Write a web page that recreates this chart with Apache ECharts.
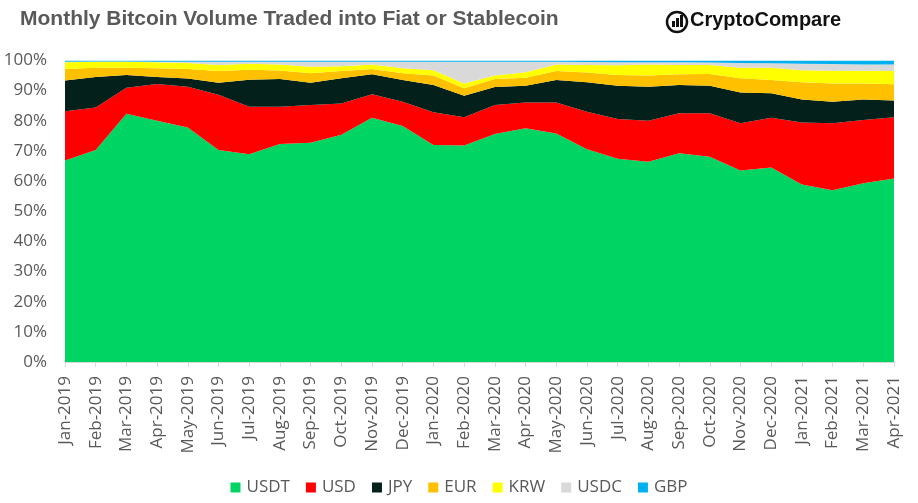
<!DOCTYPE html>
<html>
<head>
<meta charset="utf-8">
<script src="https://cdn.jsdelivr.net/npm/echarts@6/dist/echarts.min.js"></script>
<style>html,body{margin:0;padding:0;background:#fff}#c{width:918px;height:503px}</style>
</head>
<body>
<div id="c"></div>
<script>
var months = ["Jan-2019","Feb-2019","Mar-2019","Apr-2019","May-2019","Jun-2019","Jul-2019","Aug-2019","Sep-2019","Oct-2019","Nov-2019","Dec-2019","Jan-2020","Feb-2020","Mar-2020","Apr-2020","May-2020","Jun-2020","Jul-2020","Aug-2020","Sep-2020","Oct-2020","Nov-2020","Dec-2020","Jan-2021","Feb-2021","Mar-2021","Apr-2021"];
var USDT = [66.8,70.3,82.3,80.0,77.8,70.3,68.9,72.3,72.7,75.4,81.0,78.3,72.0,71.8,75.6,77.5,75.8,70.6,67.4,66.4,69.2,68.1,63.5,64.5,58.9,57.0,59.3,60.9];
var USD  = [16.4,14.1,8.7,12.2,13.5,18.3,15.8,12.4,12.5,10.3,7.8,8.0,10.8,9.4,9.6,8.6,10.3,12.4,13.2,13.6,13.3,14.4,15.7,16.5,20.5,22.2,21.0,20.3];
var JPY  = [10.2,10.1,4.2,2.3,2.7,4.0,8.9,9.2,7.4,8.4,6.6,7.2,9.1,7.1,6.0,5.5,7.4,9.8,11.0,11.3,9.4,9.1,10.2,8.1,7.7,7.1,6.8,5.5];
var EUR  = [3.8,3.1,2.4,2.9,3.2,3.9,3.3,2.8,3.2,2.4,1.8,2.3,3.1,2.5,2.7,2.7,3.0,3.2,3.6,3.7,3.5,3.9,4.7,4.4,5.7,6.1,5.3,5.4];
var KRW  = [2.2,2.0,2.0,2.0,2.0,2.0,2.0,2.0,2.1,1.6,1.5,1.6,1.8,1.6,1.1,1.8,2.2,2.5,3.2,3.7,3.1,3.0,3.5,4.1,4.0,4.2,4.2,4.4];
var USDC = [0.2,0.1,0.1,0.2,0.4,1.1,0.7,0.9,1.7,1.5,0.9,2.2,2.8,7.2,4.6,3.5,0.9,1.0,1.0,0.7,0.9,0.8,1.6,1.5,2.1,2.2,2.1,2.2];
var GBP  = [0.4,0.3,0.3,0.4,0.4,0.4,0.4,0.4,0.4,0.4,0.4,0.4,0.4,0.4,0.4,0.4,0.4,0.5,0.6,0.6,0.6,0.7,0.8,0.9,1.1,1.2,1.3,1.3];
var yTicks = ["0%","10%","20%","30%","40%","50%","60%","70%","80%","90%","100%"];

var seriesNames = ["USDT","USD","JPY","EUR","KRW","USDC","GBP"];
var seriesData = [USDT,USD,JPY,EUR,KRW,USDC,GBP];
var colors = ["#00D563","#FF0000","#03201A","#FFC000","#FFFF00","#D9D9D9","#00B0F0"];

var totals = months.map(function(m,i){var s=0;seriesData.forEach(function(d){s+=d[i];});return s;});
var series = seriesNames.map(function(n,k){
  return {
    name:n, type:'line', stack:'all', showSymbol:false, symbol:'none',
    lineStyle:{width:0}, areaStyle:{color:colors[k],opacity:1},
    itemStyle:{color:colors[k]},
    data: seriesData[k].map(function(v,i){return +(v*100/totals[i]).toFixed(3);})
  };
});

var chart = echarts.init(document.getElementById('c'),null,{renderer:'canvas'});
chart.setOption({
  animation:false,
  backgroundColor:'#fff',
  color:colors,
  grid:{left:65,right:24,top:60.5,bottom:141,containLabel:false},
  xAxis:{
    type:'category', data:months, boundaryGap:false,
    axisLine:{show:true,lineStyle:{color:'#D9D9D9',width:1}},
    axisTick:{show:true,alignWithLabel:true,length:5,lineStyle:{color:'#D9D9D9'}},
    axisLabel:{rotate:90,interval:0,fontSize:17,color:'#595959',fontFamily:'Open Sans',margin:14}
  },
  yAxis:{
    type:'value', min:0, max:100, interval:10,
    axisLine:{show:false}, axisTick:{show:false}, splitLine:{show:false},
    axisLabel:{fontSize:17,color:'#595959',fontFamily:'Open Sans',margin:18,
      formatter:function(v){return yTicks[Math.round(v/10)];}}
  },
  legend:{
    data:seriesNames, bottom:2, left:'center', icon:'rect', itemWidth:10, itemHeight:10, itemGap:16,
    textStyle:{fontSize:17,color:'#595959',fontFamily:'Open Sans',padding:[0,0,0,1]}
  },
  graphic:[
    {type:'text',left:20,top:9,style:{text:'Monthly Bitcoin Volume Traded into Fiat or Stablecoin',font:'bold 21px "Liberation Sans", Arial, sans-serif',fill:'#595959'}},
    {type:'circle',shape:{cx:677,cy:22,r:10},style:{fill:'none',stroke:'#111',lineWidth:2.5}},
    {type:'rect',shape:{x:672,y:21,width:3,height:6},style:{fill:'#111'}},
    {type:'rect',shape:{x:676,y:18,width:3,height:9},style:{fill:'#111'}},
    {type:'rect',shape:{x:680,y:15,width:3,height:12},style:{fill:'#111'}},
    {type:'text',left:690,top:10,style:{text:'CryptoCompare',font:'bold 20px "Liberation Sans", Arial, sans-serif',fill:'#111'}}
  ],
  series:series
});
</script>
</body>
</html>
